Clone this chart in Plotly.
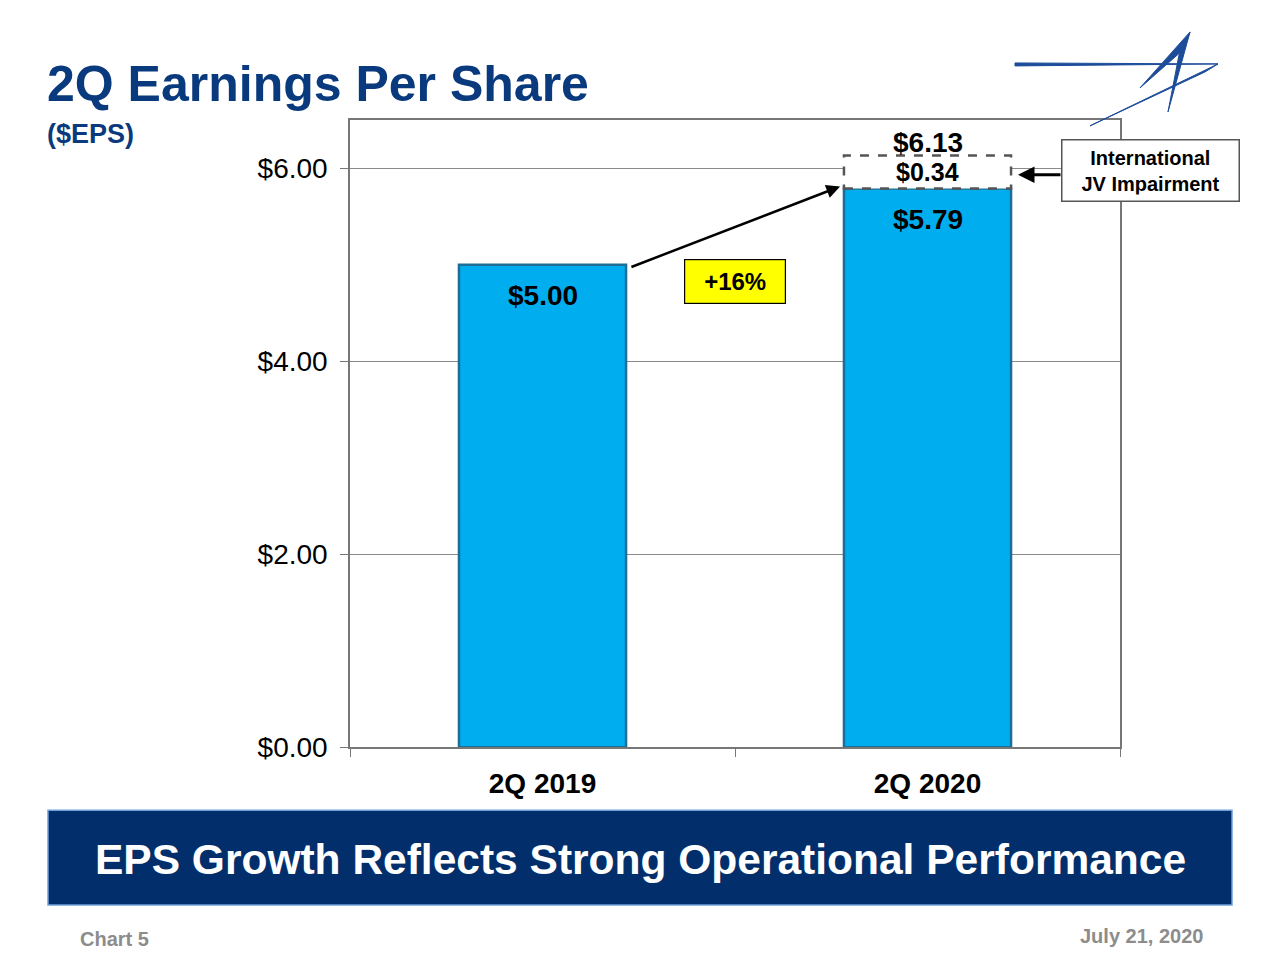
import plotly.graph_objects as go

categories = ["2Q 2019", "2Q 2020"]
eps_values = [5.00, 5.79]
impairment = [None, 0.34]
total_2020 = 6.13
growth_label = "+16%"
y_ticks = [0, 2, 4, 6]
y_tick_labels = ["$0.00", "$2.00", "$4.00", "$6.00"]

FONT = "Liberation Sans, Arial, Helvetica, sans-serif"
NAVY = "#0A3A7E"
BAR = "#00AEEF"
BAR_W = 0.434

fig = go.Figure()
fig.add_trace(go.Bar(
    x=categories, y=eps_values, width=BAR_W,
    marker=dict(color=BAR, line=dict(color="#1C6E94", width=2.5)),
    hoverinfo="skip", showlegend=False,
))

# value labels inside bars, near the top
for c, v in zip(categories, eps_values):
    fig.add_annotation(x=c, y=v, yshift=-31, text=f"<b>${v:.2f}</b>",
                       showarrow=False, yanchor="middle", xanchor="center",
                       font=dict(family=FONT, size=28, color="#000"))

# dashed impairment box stacked on 2Q 2020
i = 1
fig.add_shape(type="rect", xref="x", yref="y",
              x0=i - BAR_W / 2, x1=i + BAR_W / 2,
              y0=eps_values[i], y1=eps_values[i] + impairment[i],
              line=dict(color="#555555", width=2.5, dash="dash"),
              fillcolor="white", layer="above")
fig.add_annotation(x=categories[i], y=eps_values[i] + impairment[i] / 2,
                   text=f"<b>${impairment[i]:.2f}</b>", showarrow=False,
                   yanchor="middle", xanchor="center",
                   font=dict(family=FONT, size=25, color="#000"))
fig.add_annotation(x=categories[i], y=total_2020, yshift=13,
                   text=f"<b>${total_2020:.2f}</b>", showarrow=False,
                   yanchor="middle", xanchor="center",
                   font=dict(family=FONT, size=28, color="#000"))

# growth arrow
fig.add_annotation(x=1 - BAR_W / 2 - 0.01, y=eps_values[1] + 0.02,
                   ax=BAR_W / 2 + 0.01, ay=eps_values[0] - 0.03,
                   xref="x", yref="y", axref="x", ayref="y",
                   text="", showarrow=True, arrowhead=2, arrowsize=1.1,
                   arrowwidth=2.5, arrowcolor="#000")
fig.add_annotation(x=0.5, y=4.83, xref="x", yref="y",
                   text=f"<b>{growth_label}</b>", showarrow=False,
                   xanchor="center", yanchor="middle",
                   bgcolor="#FFFF00", bordercolor="#000", borderwidth=1.2,
                   borderpad=8, width=84,
                   font=dict(family=FONT, size=24, color="#000"))

# International JV Impairment callout
fig.add_annotation(x=1150.5 / 1280, y=1 - 170.5 / 960, xref="paper", yref="paper",
                   text="<b>International<br>JV Impairment</b>", showarrow=False,
                   xanchor="center", yanchor="middle",
                   bgcolor="white", bordercolor="#555", borderwidth=1.5,
                   borderpad=6, width=164,
                   font=dict(family=FONT, size=20, color="#000"))
fig.add_annotation(x=1018 / 1280, y=1 - 175 / 960, ax=44, ay=0,
                   xref="paper", yref="paper",
                   text="", showarrow=True, arrowhead=2, arrowsize=1.1,
                   arrowwidth=3, arrowcolor="#000")

# titles
fig.add_annotation(x=45 / 1280, y=1 - 84 / 960, xref="paper", yref="paper",
                   text="<b>2Q Earnings Per Share</b>", showarrow=False,
                   xanchor="left", yanchor="middle",
                   font=dict(family=FONT, size=50, color=NAVY))
fig.add_annotation(x=45 / 1280, y=1 - 134 / 960, xref="paper", yref="paper",
                   text="<b>($EPS)</b>", showarrow=False,
                   xanchor="left", yanchor="middle",
                   font=dict(family=FONT, size=27, color=NAVY))

# bottom banner
fig.add_shape(type="rect", xref="paper", yref="paper",
              x0=48 / 1280, x1=1232 / 1280, y0=1 - 906 / 960, y1=1 - 811 / 960,
              fillcolor="#022F6B", line=dict(color="#6FA0D8", width=1.5), layer="below")
fig.add_annotation(x=640 / 1280, y=1 - 860 / 960, xref="paper", yref="paper",
                   text="<b>EPS Growth Reflects Strong Operational Performance</b>",
                   showarrow=False, xanchor="center", yanchor="middle",
                   font=dict(family=FONT, size=42.5, color="white"))
fig.add_annotation(x=78 / 1280, y=1 - 940 / 960, xref="paper", yref="paper",
                   text="<b>Chart 5</b>", showarrow=False, xanchor="left", yanchor="middle",
                   font=dict(family=FONT, size=20, color="#8C8C8C"))
fig.add_annotation(x=1205 / 1280, y=1 - 937 / 960, xref="paper", yref="paper",
                   text="<b>July 21, 2020</b>", showarrow=False, xanchor="right",
                   yanchor="middle",
                   font=dict(family=FONT, size=20, color="#8C8C8C"))

# logo (decorative star)
def P(x, y):
    return f"{x / 1280:.5f},{1 - y / 960:.5f}"
logo_paths = [
    f"M{P(1015,63)} L{P(1218,64)} L{P(1015,66)} Z",
    f"M{P(1190,32)} L{P(1140,88)} L{P(1183,50)} Z",
    f"M{P(1190,32)} L{P(1168,112)} L{P(1179,55)} Z",
    f"M{P(1218,64)} L{P(1090,126)} L{P(1205,72)} Z",
]
for p in logo_paths:
    fig.add_shape(type="path", xref="paper", yref="paper", path=p,
                  fillcolor="#1D4C9A", line=dict(color="#1D4C9A", width=1))

fig.update_layout(
    width=1280, height=975, autosize=False,
    margin=dict(l=0, r=0, t=0, b=0),
    paper_bgcolor="white", plot_bgcolor="white",
    xaxis=dict(domain=[350 / 1280, 1120 / 1280], type="category",
               showline=True, linecolor="#777", linewidth=1.5, mirror=True,
               ticks="outside", tickson="boundaries", ticklen=8, tickcolor="#777",
               tickfont=dict(family=FONT, size=28, color="#000"),
               ticktext=[f"<b>{c}</b>" for c in categories], tickvals=categories,
               ticklabelstandoff=10,
               showgrid=False, range=[-0.5, 1.5]),
    yaxis=dict(domain=[1 - 748 / 960, 1 - 120 / 960], range=[0, 6.5],
               tickvals=y_ticks, ticktext=y_tick_labels,
               showline=True, linecolor="#777", linewidth=1.5, mirror=True,
               ticks="outside", ticklen=8, tickcolor="#777",
               ticklabelstandoff=7,
               showgrid=True, gridcolor="#8A8A8A", gridwidth=1, zeroline=False,
               tickfont=dict(family=FONT, size=28, color="#000")),
    font=dict(family=FONT),
)

fig.write_html("out.html",
               config={"responsive": False, "displayModeBar": False},
               post_script="document.body.style.margin='0';document.body.style.overflow='hidden';")
